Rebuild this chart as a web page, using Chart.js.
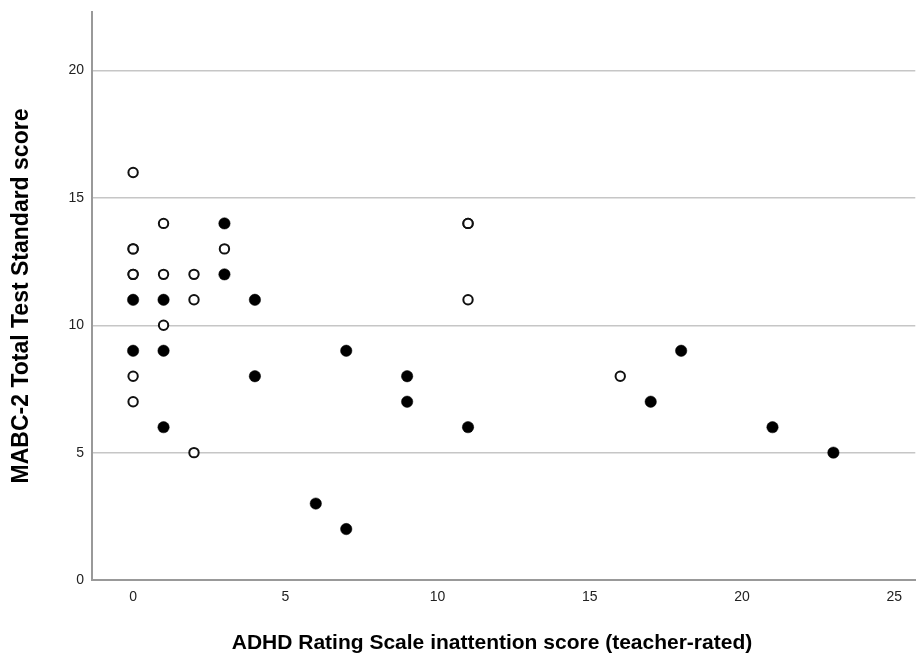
<!DOCTYPE html>
<html>
<head>
<meta charset="utf-8">
<script src="https://cdn.jsdelivr.net/npm/chart.js@4/dist/chart.umd.min.js"></script>
<style>
    html, body { margin: 0; padding: 0; background: #fff; }
    #wrap { width: 922px; height: 656px; }
</style>
</head>
<body>
<div id="wrap"><canvas id="scatter"></canvas></div>
<script>
// hollow markers
const openX = [0, 0, 0, 0, 0, 0, 0, 1, 1, 1, 2, 2, 2, 3, 11, 11, 11, 16];
const openY = [16, 13, 13, 12, 12, 8, 7, 14, 12, 10, 12, 11, 5, 13, 14, 14, 11, 8];
// filled markers
const filledX = [0, 0, 1, 1, 1, 3, 3, 4, 4, 6, 7, 7, 9, 9, 11, 17, 18, 21, 23];
const filledY = [11, 9, 11, 9, 6, 14, 12, 11, 8, 3, 9, 2, 8, 7, 6, 7, 9, 6, 5];

const xTitle = 'ADHD Rating Scale inattention score (teacher-rated)';
const yTitle = 'MABC-2 Total Test Standard score';

const tickFont = { family: "'Liberation Sans Narrow', 'Liberation Sans', Arial, sans-serif", size: 14 };
const titleFamily = "'Liberation Sans', Arial, sans-serif";

function toPoints(xs, ys) {
    const pts = [];
    for (let i = 0; i < xs.length; i++) {
        pts.push({ x: xs[i], y: ys[i] });
    }
    return pts;
}

const datasets = [
    {
        label: 'filled',
        data: toPoints(filledX, filledY),
        pointRadius: 5.7,
        pointBorderWidth: 0.5,
        pointBackgroundColor: '#000',
        pointBorderColor: '#000'
    },
    {
        label: 'open',
        data: toPoints(openX, openY),
        pointRadius: 4.7,
        pointBorderWidth: 2,
        pointBackgroundColor: '#fff',
        pointBorderColor: '#111'
    }
];

new Chart(document.getElementById('scatter'), {
    type: 'scatter',
    data: { datasets: datasets },
    options: {
        responsive: true,
        maintainAspectRatio: false,
        animation: false,
        layout: { padding: { top: 12, right: 0, bottom: 0, left: 0 } },
        plugins: {
            legend: { display: false },
            tooltip: { enabled: false }
        },
        scales: {
            x: {
                type: 'linear',
                min: -1.35,
                max: 25.69,
                afterFit: function (scale) {
                    scale.height = 76;
                },
                ticks: { stepSize: 5, includeBounds: false, padding: 9, color: '#222', font: tickFont },
                grid: { color: 'transparent', drawTicks: false },
                border: { display: true, color: '#999', width: 2 },
                title: {
                    display: true,
                    text: xTitle + '    ',
                    color: '#000',
                    font: { family: titleFamily, size: 21, weight: 'bold' },
                    padding: { top: 0, bottom: 0 }
                }
            },
            y: {
                type: 'linear',
                min: 0,
                max: 22.3,
                afterFit: function (scale) {
                    scale.width = 92;
                    scale.paddingTop = 0;
                    scale.paddingBottom = 0;
                },
                ticks: { stepSize: 5, includeBounds: false, padding: 8, color: '#222', font: tickFont },
                grid: {
                    drawTicks: false,
                    lineWidth: 1.5,
                    color: function (c) { return c.tick && c.tick.value === 0 ? 'transparent' : '#c6c6c6'; }
                },
                border: { display: true, color: '#999', width: 2 },
                title: {
                    display: true,
                    text: yTitle,
                    color: '#000',
                    font: { family: titleFamily, size: 23, weight: 'bold' },
                    padding: { top: 8, bottom: 0 }
                }
            }
        }
    }
});
</script>
</body>
</html>
